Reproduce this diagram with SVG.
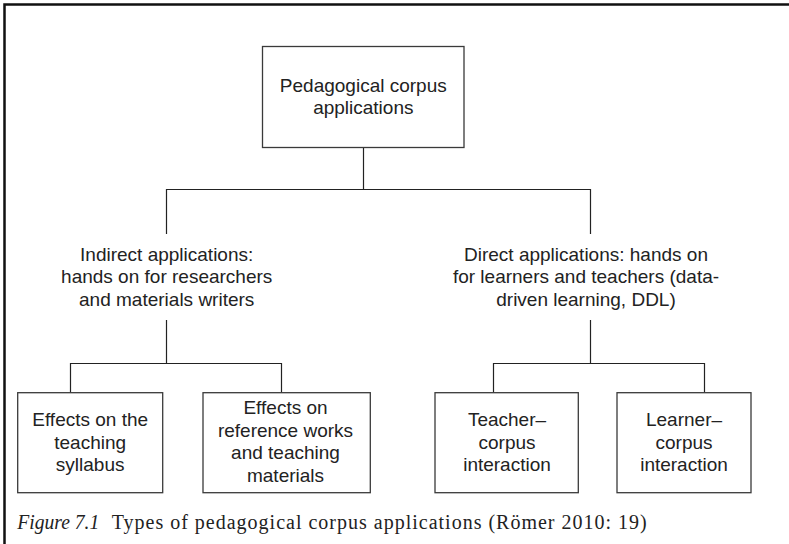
<svg xmlns="http://www.w3.org/2000/svg" width="789" height="544" viewBox="0 0 789 544">
<style>
.bg{fill:#ffffff}
.frame{fill:none;stroke:#111;stroke-width:2.5}
.box{fill:#ffffff;stroke:#3a3a3a;stroke-width:1.3}
.conn{fill:none;stroke:#222;stroke-width:1.2}
.t{font-family:"Liberation Sans",Arial,Helvetica,sans-serif;font-size:19px;fill:#222;text-anchor:middle}
.cap{font-family:"Liberation Serif","Times New Roman",serif;font-size:20px;fill:#222}
</style>
<rect class="bg" x="0" y="0" width="789" height="544"/>
<path class="frame" d="M4.5,544 V4.5 H789"/>
<g id="connectors">
<path class="conn" d="M363.5,147.5 V189.5"/>
<path class="conn" d="M166.5,234 V189.5 H590.5 V234"/>
<path class="conn" d="M166.5,320 V363.5"/>
<path class="conn" d="M70.5,392.5 V363.5 H281.5 V392.5"/>
<path class="conn" d="M590.5,320 V363.5"/>
<path class="conn" d="M493.5,392.5 V363.5 H704.5 V392.5"/>
</g>
<g id="root">
<rect class="box" x="262.5" y="46.5" width="201.5" height="101"/>
<text class="t" x="363.3" y="91.5">Pedagogical corpus</text>
<text class="t" x="363.3" y="114">applications</text>
</g>
<g id="indirect">
<text class="t" x="166.7" y="260.5">Indirect applications:</text>
<text class="t" x="166.7" y="283">hands on for researchers</text>
<text class="t" x="166.7" y="305.5">and materials writers</text>
</g>
<g id="direct">
<text class="t" x="586" y="260.5">Direct applications: hands on</text>
<text class="t" x="586" y="283">for learners and teachers (data-</text>
<text class="t" x="586" y="305.5">driven learning, DDL)</text>
</g>
<g id="syllabus">
<rect class="box" x="17.7" y="392.7" width="145" height="100"/>
<text class="t" x="90.2" y="426">Effects on the</text>
<text class="t" x="90.2" y="448.5">teaching</text>
<text class="t" x="90.2" y="471">syllabus</text>
</g>
<g id="reference">
<rect class="box" x="203" y="392.7" width="167.3" height="100"/>
<text class="t" x="285.5" y="414">Effects on</text>
<text class="t" x="285.5" y="436.5">reference works</text>
<text class="t" x="285.5" y="459">and teaching</text>
<text class="t" x="285.5" y="481.5">materials</text>
</g>
<g id="teacher">
<rect class="box" x="435" y="392.7" width="143.3" height="100"/>
<text class="t" x="507" y="426">Teacher–</text>
<text class="t" x="507" y="448.5">corpus</text>
<text class="t" x="507" y="471">interaction</text>
</g>
<g id="learner">
<rect class="box" x="617" y="392.7" width="134" height="100"/>
<text class="t" x="684" y="426">Learner–</text>
<text class="t" x="684" y="448.5">corpus</text>
<text class="t" x="684" y="471">interaction</text>
</g>
<g id="caption">
<text class="cap" x="17.3" y="528.5" font-style="italic" textLength="82" lengthAdjust="spacingAndGlyphs">Figure 7.1</text>
<text class="cap" x="111.7" y="528.5" textLength="535" lengthAdjust="spacing">Types of pedagogical corpus applications (Römer 2010: 19)</text>
</g>
</svg>
